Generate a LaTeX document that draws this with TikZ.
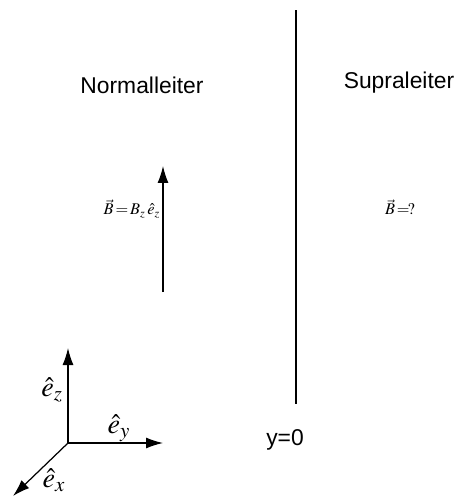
\documentclass[tikz,border=0pt]{standalone}
\usepackage{fontspec}
\usepackage{mathptmx}
\setmainfont{Liberation Serif}
\setsansfont{Liberation Sans}
\usepackage{tikz}
\usetikzlibrary{positioning,arrows.meta}

\begin{document}
\begin{tikzpicture}[
    x=0.02cm, y=-0.02cm,
    >={Latex[length=3.4mm,width=2.2mm]},
    lbl/.style={font=\sffamily\fontsize{13}{15}\selectfont},
    mth/.style={font=\fontsize{9.3}{11}\selectfont, inner sep=0pt},
    ax/.style={font=\fontsize{16}{18}\selectfont, inner sep=0pt},
  ]
    \useasboundingbox (0,0) rectangle (460,497);

    % boundary between the two regions
    \coordinate (top) at (296,10);
    \coordinate (bot) at (296,404);
    \draw[line width=0.7pt] (top) -- (bot);

    \node[lbl] (normal) at (142,85) {Normalleiter};
    \node[lbl] (supra)  at (399,83) {Supraleiter};

    % field in the normal conductor
    \coordinate (bfoot) at (163,292);
    \coordinate (bhead) at (163,166);
    \draw[->, line width=0.7pt] (bfoot) -- (bhead);
    \node[mth] (bnormal) at (132,209) {$\vec{B}\!=\!B_{z}\,\hat{e}_{z}$};
    \node[mth] (bsupra)  at (400,207) {$\vec{B}\!=\!?$};

    \node[lbl] (yzero) at (285,440) {y=0};

    % axes
    \coordinate (o) at (68,443);
    \coordinate (ez) at (68,348);
    \coordinate (ey) at (163,443);
    \coordinate (ex) at (13,496);
    \draw[->, line width=0.7pt] (o) -- (ez);
    \draw[->, line width=0.7pt] (o) -- (ey);
    \draw[->, line width=0.7pt] (o) -- (ex);
    \node[ax] (lz) at (52,390) {$\hat{e}_{z}$};
    \node[ax] (ly) at (119,428) {$\hat{e}_{y}$};
    \node[ax] (lx) at (54,480) {$\hat{e}_{x}$};
\end{tikzpicture}
\end{document}
